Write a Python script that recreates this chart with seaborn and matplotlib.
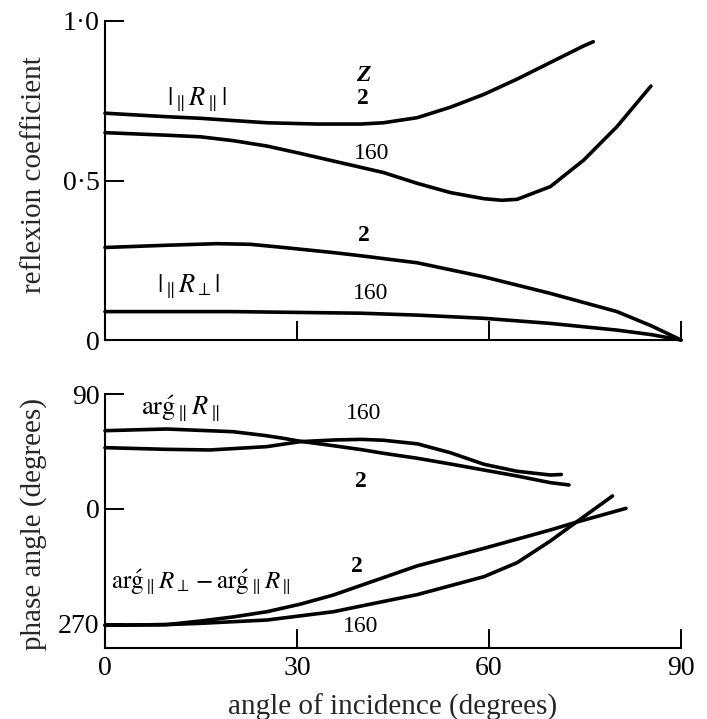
import matplotlib
matplotlib.use("Agg")
import matplotlib.pyplot as plt
import numpy as np
import pandas as pd
import seaborn as sns

sns.set_style("ticks")
plt.rcParams['font.family'] = ['Liberation Serif', 'DejaVu Serif']
plt.rcParams['mathtext.fontset'] = 'stix'

# ---------------- data ----------------
# top panel: reflexion coefficient
rpar2_x = [0, 9.6, 14.9, 20, 25.3, 33.1, 40, 43.5, 48.8, 54, 59.2, 64.4, 69.6, 74.8, 76.3]
rpar2_y = [0.711, 0.700, 0.695, 0.688, 0.681, 0.677, 0.677, 0.681, 0.697, 0.730, 0.770, 0.818, 0.870, 0.922, 0.935]
rpar160_x = [0, 9.6, 14.9, 20, 25.3, 30.5, 35.7, 43.5, 48.8, 54, 59.2, 62, 64.4, 69.6, 74.8, 80, 85.3]
rpar160_y = [0.650, 0.642, 0.637, 0.625, 0.608, 0.585, 0.561, 0.525, 0.491, 0.462, 0.443, 0.438, 0.441, 0.481, 0.564, 0.669, 0.796]
rperp2_x = [0, 9.6, 17.5, 22.7, 27.9, 35.7, 40, 48.8, 59.2, 69.6, 80, 85.3, 90]
rperp2_y = [0.290, 0.297, 0.302, 0.300, 0.290, 0.274, 0.264, 0.242, 0.198, 0.146, 0.089, 0.045, 0.0]
rperp160_x = [0, 20, 40, 48.8, 59.2, 69.6, 80, 85.3, 90]
rperp160_y = [0.089, 0.089, 0.084, 0.078, 0.068, 0.052, 0.031, 0.017, 0.0]

# bottom panel: phase angle (270 shown as -90)
argpar2_x = [0, 9.6, 20, 25, 27.9, 30.5, 35, 40, 43.5, 48.8, 54, 59.2, 64.4, 69.6, 72.5]
argpar2_y = [61.3, 62.6, 60.5, 57.5, 55.3, 53.0, 50.0, 46.5, 43.6, 39.7, 35.2, 30.5, 25.8, 20.6, 18.8]
argpar160_x = [0, 9.6, 16.4, 25.3, 30.5, 35.7, 40, 43.5, 48.8, 54, 59.2, 64.4, 69.6, 71.3]
argpar160_y = [48.0, 46.7, 46.2, 48.8, 52.7, 54.0, 54.5, 53.8, 51.0, 44.0, 35.0, 29.5, 26.6, 27.0]
diff2_x = [0, 9.6, 14.9, 20, 25.3, 30.5, 35.7, 40, 48.8, 59.2, 69.6, 73.6, 81.4]
diff2_y = [-91.0, -90.5, -87.7, -84.5, -80.4, -74.5, -67.3, -59.8, -44.5, -30.8, -16.4, -10.4, 0.5]
diff160_x = [0, 9.6, 14.9, 25.3, 35.7, 38.3, 48.8, 59.2, 64.4, 69.6, 73.6, 79.3]
diff160_y = [-91.0, -90.5, -89.5, -86.9, -80.4, -77.7, -67.0, -53.0, -42.0, -25.0, -10.4, 10.2]

top_yticks = [0, 0.5, 1.0]
top_yticklabels = ["0", "0·5", "1·0"]
bot_yticks = [-90, 0, 90]
bot_yticklabels = ["270", "0", "90"]
xticks = [0, 30, 60, 90]
xticklabels = ["0", "30", "60", "90"]


def frame(curves):
    parts = []
    for name, xs, ys in curves:
        parts.append(pd.DataFrame({"angle": xs, "value": ys, "curve": name}))
    return pd.concat(parts, ignore_index=True)


top_df = frame([("Rpar2", rpar2_x, rpar2_y), ("Rpar160", rpar160_x, rpar160_y),
                ("Rperp2", rperp2_x, rperp2_y), ("Rperp160", rperp160_x, rperp160_y)])
bot_df = frame([("arg2", argpar2_x, argpar2_y), ("arg160", argpar160_x, argpar160_y),
                ("diff2", diff2_x, diff2_y), ("diff160", diff160_x, diff160_y)])

W, H = 707, 719
fig = plt.figure(figsize=(W / 100, H / 100), dpi=100)
ax1 = fig.add_axes([105 / W, 1 - 340 / H, 576 / W, 319 / H])
ax2 = fig.add_axes([105 / W, 1 - 648 / H, 576 / W, 254 / H])

LW = 2.6
for ax, df in ((ax1, top_df), (ax2, bot_df)):
    sns.lineplot(data=df, x="angle", y="value", units="curve", estimator=None,
                 sort=False, color="black", linewidth=LW, ax=ax, legend=False)
    for ln in ax.get_lines():
        ln.set_clip_on(False)
        ln.set_solid_capstyle("round")
        ln.set_solid_joinstyle("round")
    ax.set_xlim(0, 90)
    for s in ("top", "right"):
        ax.spines[s].set_visible(False)
    for s in ("left", "bottom"):
        ax.spines[s].set_linewidth(1.5)
        ax.spines[s].set_color("black")
    ax.tick_params(direction="in", length=14, width=1.4, colors="black",
                   labelsize=20, pad=4)
    ax.set_facecolor("white")

ax1.set_ylim(0, 1.0)
ax1.set_yticks(top_yticks)
ax1.set_yticklabels(top_yticklabels)
ax1.set_xticks(xticks)
ax1.set_xticklabels([])
ax1.set_xlabel("")
ax1.set_ylabel("reflexion coefficient", fontsize=21)
ax1.yaxis.set_label_coords(-0.10, 0.517)

ax2.set_ylim(-108.8, 90)
ax2.set_yticks(bot_yticks)
ax2.set_yticklabels(bot_yticklabels)
ax2.set_xticks(xticks)
ax2.set_xticklabels(xticklabels)
ax2.tick_params(axis="x", pad=6)
ax2.set_ylabel("phase angle (degrees)", fontsize=21)
ax2.yaxis.set_label_coords(-0.10, 0.49)
ax2.set_xlabel("angle of incidence (degrees)", fontsize=21)
ax2.xaxis.set_label_coords(0.5, -0.178)

# annotations
kw = dict(ha="center", va="center", fontsize=17, color="black")
kwm = dict(ha="center", va="center", fontsize=19, color="black")
ax1.text(14.4, 0.752, r"$|_{\parallel}R_{\parallel}|$", **kwm)
ax1.text(40.3, 0.83, "Z", fontweight="bold", style="italic", **kw)
ax1.text(40.3, 0.758, "2", fontweight="bold", **kw)
ax1.text(41.6, 0.586, "160", **kw)
ax1.text(40.4, 0.329, "2", fontweight="bold", **kw)
ax1.text(41.5, 0.146, "160", **kw)
ax1.text(13.1, 0.165, r"$|_{\parallel}R_{\perp}|$", **kwm)

ax2.text(11.7, 79, r"$\mathrm{ar\acute{g}}_{\parallel}R_{\parallel}$", **kwm)
ax2.text(40.4, 75, "160", **kw)
ax2.text(40.0, 21.4, "2", fontweight="bold", **kw)
ax2.text(15.0, -57,
         r"$\mathrm{ar\acute{g}}_{\parallel}R_{\perp}-\mathrm{ar\acute{g}}_{\parallel}R_{\parallel}$",
         ha="center", va="center", fontsize=18, color="black")
ax2.text(39.4, -45, "2", fontweight="bold", **kw)
ax2.text(40.0, -92, "160", **kw)

fig.savefig("out.png", dpi=100, facecolor="white")
